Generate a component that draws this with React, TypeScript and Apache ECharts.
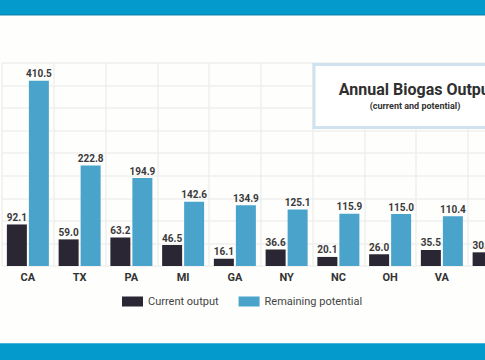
import React, { useEffect, useRef } from "react";
import * as echarts from "echarts";

const states = ["CA", "TX", "PA", "MI", "GA", "NY", "NC", "OH", "VA", "WI"];
const currentOutput = [92.1, 59.0, 63.2, 46.5, 16.1, 36.6, 20.1, 26.0, 35.5, 30.3];
const remainingPotential = [410.5, 222.8, 194.9, 142.6, 134.9, 125.1, 115.9, 115.0, 110.4, 102.3];
const yTicks = { min: 0, max: 450, interval: 50 };
const titleText = "Annual Biogas Output";
const subtitleText = "(current and potential)";
const legendNames = ["Current output", "Remaining potential"];

const FONT = "Roboto, 'Liberation Sans', sans-serif";
const W = 530;

export default function App() {
  const ref = useRef<HTMLDivElement>(null);
  useEffect(() => {
    if (!ref.current) return;
    const chart = echarts.init(ref.current, null, { renderer: "svg" });
    const gridColor = "#efefed";
    const valueLabel = {
      show: true,
      position: "top",
      distance: 2,
      fontSize: 10,
      fontWeight: "bold",
      fontFamily: FONT,
      color: "#3a3a3a",
      formatter: (p: any) => Number(p.value).toFixed(1),
    };
    chart.setOption({
      animation: false,
      backgroundColor: "#fefefd",
      grid: { left: 2, top: 63, width: 517.5, height: 203, containLabel: false },
      legend: {
        data: legendNames,
        left: 117,
        top: 291,
        itemWidth: 21,
        itemHeight: 10,
        itemGap: 20,
        icon: "rect",
        textStyle: { fontSize: 11, color: "#444", fontFamily: FONT },
      },
      xAxis: {
        type: "category",
        data: states,
        axisLine: { show: false },
        axisTick: { show: false },
        axisLabel: { fontSize: 11, fontWeight: "bold", color: "#333", margin: 6, fontFamily: FONT },
        splitLine: { show: true, lineStyle: { color: gridColor, width: 1.5 } },
      },
      yAxis: {
        type: "value",
        min: yTicks.min,
        max: yTicks.max,
        interval: yTicks.interval,
        axisLabel: { show: false },
        axisLine: { show: false },
        axisTick: { show: false },
        splitLine: { show: true, lineStyle: { color: gridColor, width: 1.5 } },
      },
      series: [
        {
          name: legendNames[0],
          type: "bar",
          data: currentOutput,
          barWidth: 20,
          barGap: "10%",
          itemStyle: { color: "#2b2634" },
          label: valueLabel,
        },
        {
          name: legendNames[1],
          type: "bar",
          data: remainingPotential,
          barWidth: 20,
          itemStyle: { color: "#4aa3ca" },
          label: valueLabel,
        },
      ],
      graphic: [
        { type: "rect", z: 100, shape: { x: 0, y: 0, width: W, height: 15 }, style: { fill: "#049acb" } },
        { type: "rect", z: 100, shape: { x: 0, y: 14, width: W, height: 1.5 }, style: { fill: "#0d87b2" } },
        { type: "rect", z: 100, shape: { x: 0, y: 343, width: W, height: 17 }, style: { fill: "#049acb" } },
        { type: "rect", z: 100, shape: { x: 0, y: 343, width: W, height: 1 }, style: { fill: "#45b5de" } },
        {
          type: "rect",
          z: 100,
          shape: { x: 314, y: 64.5, width: 206, height: 63 },
          style: { fill: "#ffffff", stroke: "#cfe2ee", lineWidth: 3 },
        },
        {
          type: "text",
          z: 101,
          x: 417,
          y: 89,
          style: {
            text: titleText,
            fontSize: 16,
            fontWeight: "bold",
            fontFamily: FONT,
            fill: "#2f2f2f",
            align: "center",
            verticalAlign: "middle",
          },
        },
        {
          type: "text",
          z: 101,
          x: 415,
          y: 106,
          style: {
            text: subtitleText,
            fontSize: 9,
            fontWeight: "bold",
            fontFamily: FONT,
            fill: "#333333",
            align: "center",
            verticalAlign: "middle",
          },
        },
      ],
    });
    return () => chart.dispose();
  }, []);
  return (
    <div style={{ position: "absolute", left: 0, top: 0, width: 485, height: 360, overflow: "hidden" }}>
      <div ref={ref} style={{ width: W, height: 360 }} />
    </div>
  );
}
